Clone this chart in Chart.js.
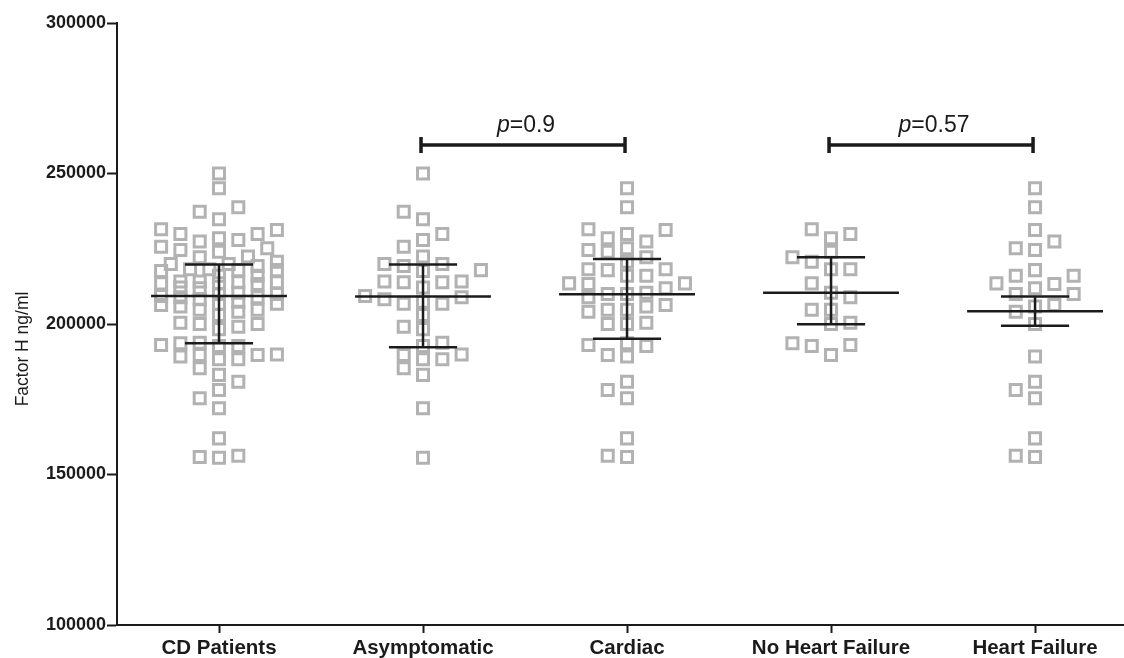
<!DOCTYPE html>
<html>
<head>
<meta charset="utf-8">
<script src="https://cdn.jsdelivr.net/npm/chart.js@4.4.0/dist/chart.umd.min.js"></script>
<style>
  html, body { margin: 0; padding: 0; background: #ffffff; }
  #wrap { width: 1124px; height: 658px; position: relative; }
</style>
</head>
<body>
<div id="wrap"><canvas id="chart"></canvas></div>
<script>
// Factor H concentration (ng/ml) per patient group
const categories = ['CD Patients', 'Asymptomatic', 'Cardiac', 'No Heart Failure', 'Heart Failure'];

const asymptomatic = [
  250000, 237300, 234800, 229900, 227900, 225700, 222400, 219300, 219900, 219900,
  217600, 217900, 214100, 214100, 213900, 213900, 212100, 209300, 208200, 208900,
  206700, 206700, 207400, 203000, 198300, 199100, 193800, 188300, 189900, 189700,
  192700, 188300, 185300, 183100, 172000, 155600
];

const noHeartFailure = [
  231500, 228500, 229900, 224000, 222200, 220700, 218200, 218200, 213500, 210400,
  208900, 204700, 204700, 200400, 200000, 193000, 192700, 193600, 189700
];

const heartFailure = [
  245100, 238800, 231200, 227400, 224600, 225200, 213500, 216000, 216000, 217900,
  213300, 211900, 210000, 210000, 206300, 204100, 205800, 200000, 189200, 178100,
  175300, 180800, 162000, 155800, 156200
];

// Cardiac patients split into the two heart-failure subgroups; all CD patients = asymptomatic + cardiac
const cardiac = noHeartFailure.concat(heartFailure);
const cdPatients = asymptomatic.concat(cardiac);
const groups = [cdPatients, asymptomatic, cardiac, noHeartFailure, heartFailure];

// Central line and error-bar ends per group
const centreValues = [209300, 209100, 209900, 210400, 204200];
const upperValues  = [219800, 219800, 221600, 222200, 209100];
const lowerValues  = [193600, 192300, 195100, 199900, 199400];

const yTickValues = [100000, 150000, 200000, 250000, 300000];

// Pairwise comparisons shown above the groups
const comparisonFrom  = [1, 3];
const comparisonTo    = [2, 4];
const comparisonLevel = [259500, 259500];
const comparisonP     = ['0.9', '0.57'];

const FONT = "'Liberation Sans', Arial, Helvetica, sans-serif";
const INK = '#1b1b1b';
const MARKER = '#b2b2b2';

const pointSets = groups.map((vals, g) => ({
  label: categories[g],
  data: vals.map(v => ({ x: g, y: v })),
  pointStyle: 'rect',
  pointRadius: 7.8,
  pointHoverRadius: 7.8,
  borderWidth: 3,
  pointBorderWidth: 3,
  borderColor: MARKER,
  pointBorderColor: MARKER,
  backgroundColor: 'rgba(0,0,0,0)',
  pointBackgroundColor: 'rgba(0,0,0,0)',
  showLine: false,
  order: 2
}));

// Central line, caps and vertical bar for each group, as gap-separated segments
const summaryData = [];
categories.forEach((c, i) => {
  summaryData.push({ x: i - 0.333, y: centreValues[i] }, { x: i + 0.333, y: centreValues[i] }, { x: i, y: null });
  summaryData.push({ x: i - 0.167, y: upperValues[i] }, { x: i + 0.167, y: upperValues[i] }, { x: i, y: null });
  summaryData.push({ x: i - 0.167, y: lowerValues[i] }, { x: i + 0.167, y: lowerValues[i] }, { x: i, y: null });
  summaryData.push({ x: i, y: upperValues[i] }, { x: i, y: lowerValues[i] }, { x: i + 0.01, y: null });
});
const summarySet = {
  label: 'summary',
  data: summaryData,
  showLine: true,
  spanGaps: false,
  borderColor: INK,
  borderWidth: 2.5,
  borderCapStyle: 'butt',
  pointRadius: 0,
  pointHoverRadius: 0,
  order: 0
};

// Comparison brackets with p values, plus the rotated y-axis title
const annotations = {
  id: 'annotations',
  afterDatasetsDraw(chart) {
    const { ctx, scales: { x, y } } = chart;
    ctx.save();
    ctx.strokeStyle = INK;
    ctx.fillStyle = INK;
    ctx.lineWidth = 3.5;
    ctx.lineCap = 'butt';
    comparisonFrom.forEach((from, k) => {
      const x1 = x.getPixelForValue(from) - 2;
      const x2 = x.getPixelForValue(comparisonTo[k]) - 2;
      const yy = y.getPixelForValue(comparisonLevel[k]);
      ctx.beginPath();
      ctx.moveTo(x1, yy); ctx.lineTo(x2, yy);
      ctx.moveTo(x1, yy - 8); ctx.lineTo(x1, yy + 8);
      ctx.moveTo(x2, yy - 8); ctx.lineTo(x2, yy + 8);
      ctx.stroke();
      const italic = 'italic 23px ' + FONT;
      const upright = '23px ' + FONT;
      const rest = '=' + comparisonP[k];
      ctx.font = italic; const w1 = ctx.measureText('p').width;
      ctx.font = upright; const w2 = ctx.measureText(rest).width;
      const start = (x1 + x2) / 2 + 3 - (w1 + w2) / 2;
      ctx.textBaseline = 'alphabetic';
      ctx.textAlign = 'left';
      ctx.font = italic; ctx.fillText('p', start, yy - 13);
      ctx.font = upright; ctx.fillText(rest, start + w1, yy - 13);
    });
    ctx.translate(23, 349);
    ctx.rotate(-Math.PI / 2);
    ctx.font = '17.5px ' + FONT;
    ctx.textAlign = 'center';
    ctx.textBaseline = 'middle';
    ctx.fillText('Factor H ng/ml', 0, 0);
    ctx.restore();
  }
};

const chart = new Chart(document.getElementById('chart'), {
  type: 'scatter',
  data: { datasets: [summarySet].concat(pointSets) },
  options: {
    responsive: true,
    maintainAspectRatio: false,
    animation: false,
    events: [],
    layout: { autoPadding: false, padding: { top: 23, right: 0, bottom: 0, left: 0 } },
    plugins: { legend: { display: false }, tooltip: { enabled: false } },
    scales: {
      x: {
        type: 'linear',
        min: -0.5,
        max: 4.436,
        afterBuildTicks(scale) { scale.ticks = categories.map((c, i) => ({ value: i })); },
        afterFit(scale) { scale.height = 33; },
        ticks: {
          autoSkip: false,
          maxRotation: 0,
          padding: 3,
          color: INK,
          font: { family: FONT, size: 20.5, weight: 'bold' },
          callback: v => categories[v]
        },
        grid: { drawOnChartArea: false, drawTicks: true, tickLength: 8, tickColor: INK, tickWidth: 2 },
        border: { display: true, color: INK, width: 2 }
      },
      y: {
        type: 'linear',
        min: 100000,
        max: 300000,
        afterBuildTicks(scale) { scale.ticks = yTickValues.map(v => ({ value: v })); },
        afterFit(scale) { scale.width = 117; },
        ticks: {
          padding: 1,
          color: INK,
          font: { family: FONT, size: 18, weight: 'bold' },
          callback: v => String(v)
        },
        grid: { drawOnChartArea: false, drawTicks: true, tickLength: 10, tickColor: INK, tickWidth: 2 },
        border: { display: true, color: INK, width: 2 }
      }
    }
  },
  plugins: [annotations]
});

// Spread each group's markers sideways so that they sit next to each other
function layoutSwarm(chart) {
  const xs = chart.scales.x, ys = chart.scales.y;
  const unit = xs.getPixelForValue(1) - xs.getPixelForValue(0);
  const step = 19.3, dxMin = 18.5, dyMin = 13, maxSlots = 6;
  groups.forEach((vals, g) => {
    const order = vals.map((v, i) => i).sort((a, b) => vals[a] - vals[b]);
    const placed = [];
    const offsets = new Array(vals.length).fill(0);
    order.forEach(i => {
      const py = ys.getPixelForValue(vals[i]);
      let bias = 0;
      placed.forEach(p => { if (Math.abs(p.y - py) < dyMin * 2) bias += Math.sign(p.x); });
      let best = null;
      for (let k = 0; k <= maxSlots; k++) {
        const sides = k ? [-1, 1] : [1];
        sides.forEach(s => {
          const ox = s * k * step / 2;
          let hits = 0;
          placed.forEach(p => {
            const dx = Math.abs(p.x - ox), dy = Math.abs(p.y - py);
            if (dx < dxMin && dy < dyMin) hits += (dxMin - dx) * (dyMin - dy);
          });
          const score = hits * 1000 + Math.abs(ox) + 0.5 * s * bias;
          if (!best || score < best.score) best = { ox, score };
        });
      }
      placed.push({ x: best.ox, y: py });
      offsets[i] = best.ox / unit;
    });
    chart.data.datasets[g + 1].data = vals.map((v, i) => ({ x: g + offsets[i], y: v }));
  });
  chart.update('none');
}
layoutSwarm(chart);
</script>
</body>
</html>
